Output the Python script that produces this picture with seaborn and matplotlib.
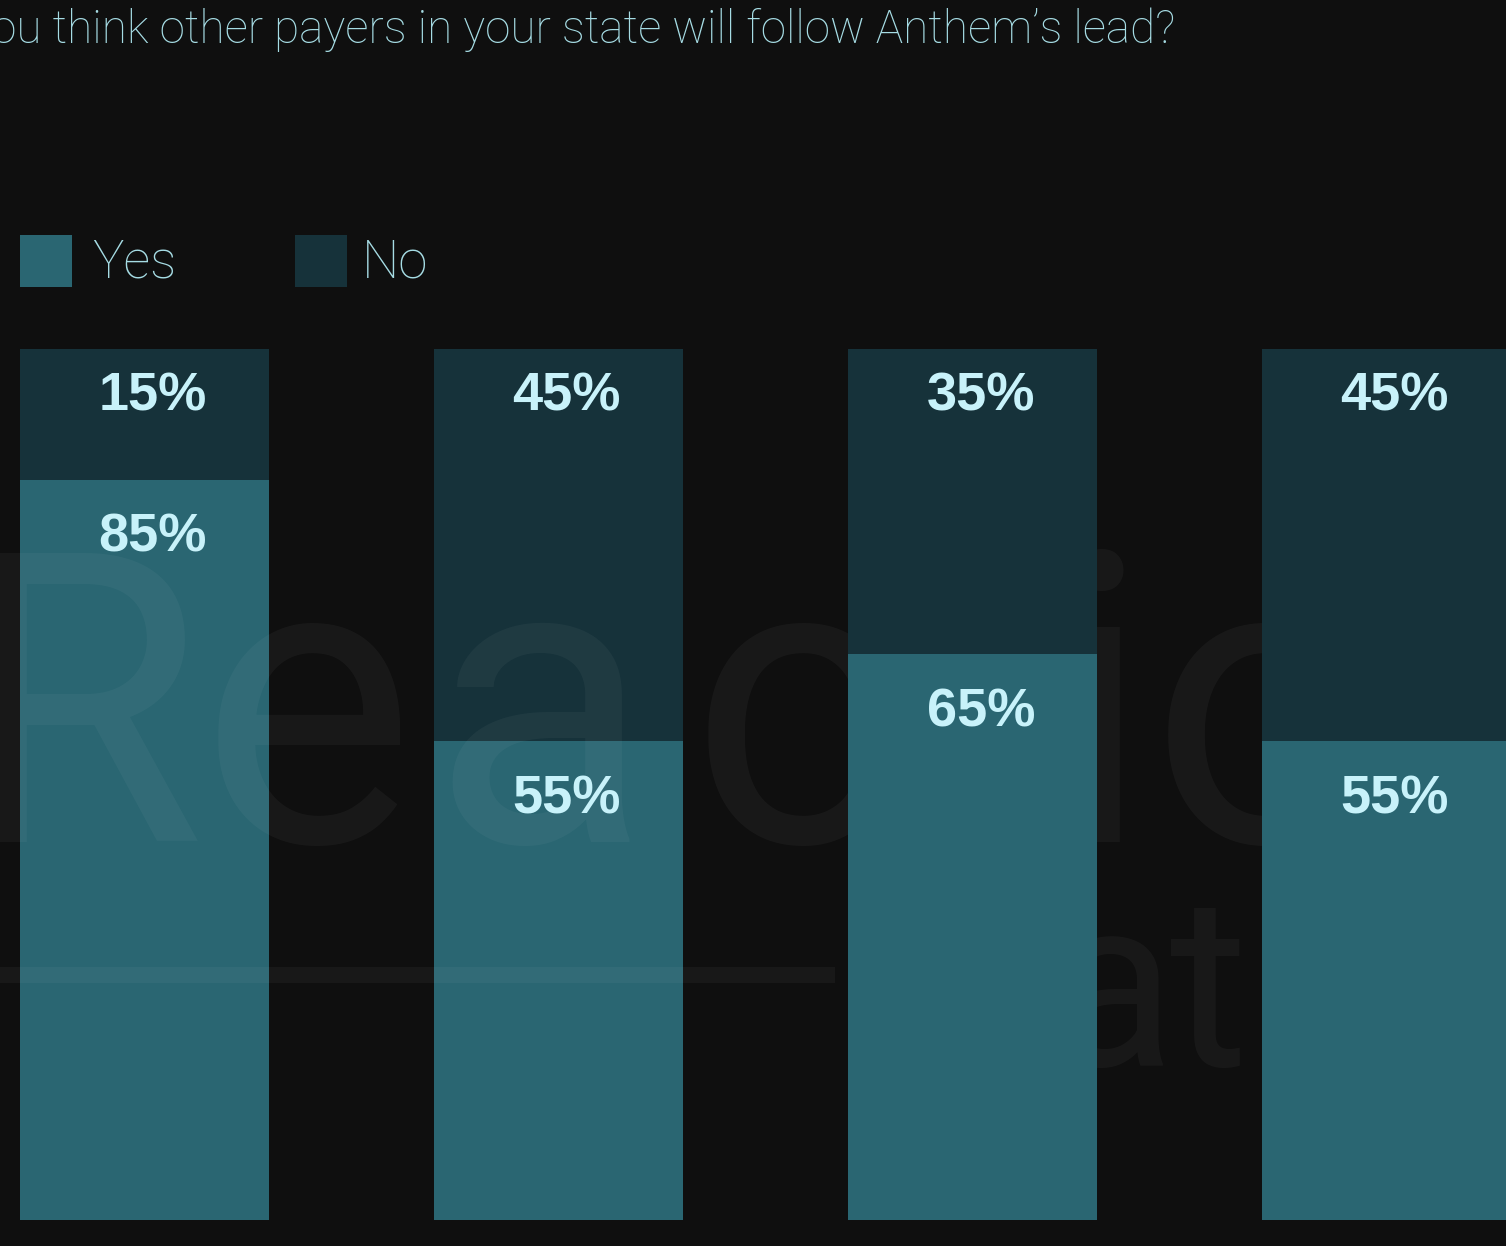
import matplotlib
matplotlib.use("Agg")
import matplotlib.pyplot as plt
from matplotlib.patches import Rectangle
import seaborn as sns

# survey answers per group (percent)
groups = ["Group 1", "Group 2", "Group 3", "Group 4"]
yes_pct = [85, 55, 65, 55]
no_pct = [15, 45, 35, 45]
series = ["Yes", "No"]
title = "Do you think other payers in your state will follow Anthem\u2019s lead?"

W, H, DPI = 1506, 1246, 100
BG = "#0f0f0f"
YES_C = "#2a6672"
NO_C = "#16323a"
TXT_C = "#a6dce4"
LBL_C = "#c8f2fa"


def fx(px):
    return px / W


def fy(py):
    return 1 - py / H


sns.set_theme(style="white", rc={"figure.facecolor": BG, "axes.facecolor": BG})
plt.rcParams["font.family"] = ["Roboto", "DejaVu Sans"]

fig = plt.figure(figsize=(W / DPI, H / DPI), dpi=DPI)
ax = fig.add_axes([0, 0, 1, 1])

totals = [y + n for y, n in zip(yes_pct, no_pct)]
sns.barplot(x=groups, y=totals, color=NO_C, saturation=1, width=0.6,
            linewidth=0, ax=ax)
sns.barplot(x=groups, y=yes_pct, color=YES_C, saturation=1, width=0.6,
            linewidth=0, ax=ax)

# bars 3 and 4 sit above the watermark, 1 and 2 below it
for p in ax.patches:
    p.set_zorder(3 if p.get_x() > 1.5 else 1)

unit_x, unit_y = 414.0, 8.71
ax.set_xlim(-144.5 / unit_x, (W - 144.5) / unit_x)
ax.set_ylim(-(H - 1220) / unit_y, 1220 / unit_y)
ax.set_axis_off()

# percent labels
for i, (y, n) in enumerate(zip(yes_pct, no_pct)):
    ax.text(i + 0.02, y + n - 7.1, f"{n}%", ha="center", va="baseline",
            fontsize=39, fontweight="bold", color=LBL_C,
            family=["Liberation Sans", "DejaVu Sans"], zorder=5)
    ax.text(i + 0.02, y - 8.3, f"{y}%", ha="center", va="baseline",
            fontsize=39, fontweight="bold", color=LBL_C,
            family=["Liberation Sans", "DejaVu Sans"], zorder=5)

# faint watermark
wm = dict(color="white", alpha=0.04, transform=fig.transFigure, zorder=2,
          family=["Roboto", "DejaVu Sans"], va="baseline", ha="left")
for ch, px in [("R", -46), ("e", 200), ("a", 430), ("c", 690), ("t", 890),
               ("i", 1052), ("o", 1150), ("n", 1420)]:
    ax.text(fx(px), fy(842), ch, fontsize=292, **wm)
for ch, px in [("D", 870), ("a", 1045), ("t", 1170), ("a", 1290)]:
    ax.text(fx(px), fy(1066), ch, fontsize=172, **wm)
ax.add_patch(Rectangle((0, fy(983)), fx(835), 16 / H, facecolor="white",
                       edgecolor="none", alpha=0.04,
                       transform=fig.transFigure, zorder=2))

# title (cropped on the left like the source)
fig.text(fx(1175), fy(43), title, ha="right", va="baseline", fontsize=33,
         fontweight="light", color=TXT_C)

# legend
for name, col, sq_x, tx_x in zip(series, [YES_C, NO_C], [20, 295], [92, 362]):
    fig.patches.append(Rectangle((fx(sq_x), fy(287)), 52 / W, 52 / H,
                                 facecolor=col, edgecolor="none",
                                 linewidth=0, transform=fig.transFigure))
    fig.text(fx(tx_x), fy(278), name, ha="left", va="baseline", fontsize=38,
             fontweight="light", color=TXT_C)

fig.savefig("out.png", dpi=DPI, facecolor=BG)
